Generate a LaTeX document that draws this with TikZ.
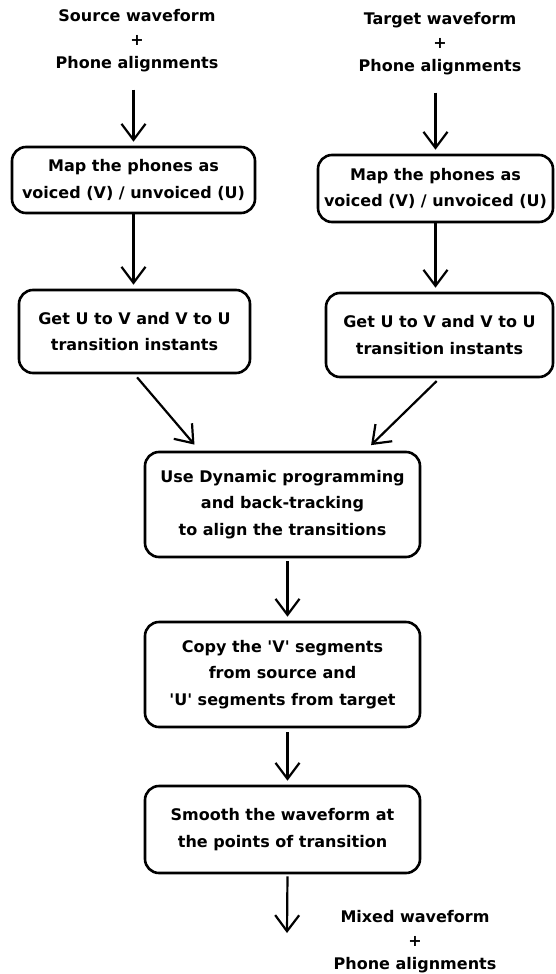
\documentclass[tikz,border=0pt]{standalone}
\usepackage{fontspec}
\setmainfont{DejaVu Sans}
\usetikzlibrary{arrows.meta}
\tikzset{
  >={Straight Barb[length=16pt,width=24pt]},
  process box/.style = {draw, line width=2.6pt, rounded corners=14pt,
                        align=center, inner sep=0pt,
                        font=\bfseries\fontsize{16}{26.5}\selectfont},
  io text/.style = {align=center, inner sep=0pt,
                    font=\bfseries\fontsize{16}{23.5}\selectfont},
  flow/.style = {line width=2.2pt, ->, shorten >=4pt},
}

\begin{document}
\begin{tikzpicture}[x=1pt, y=-1pt]
\useasboundingbox (0,0) rectangle (556,974);
% inputs
\node[io text] (src) at (137,41) {Source waveform\\+\\Phone alignments};
\node[io text] (tgt) at (440,44) {Target waveform\\+\\Phone alignments};
% voiced / unvoiced maps
\node[process box, minimum width=243pt, minimum height=66pt] (mapS) at (133.5,180)
  {Map the phones as\\voiced (V) / unvoiced (U)};
\node[process box, minimum width=235pt, minimum height=67pt] (mapT) at (435.5,188.5)
  {Map the phones as\\voiced (V) / unvoiced (U)};
% transition instants
\node[process box, minimum width=231pt, minimum height=83pt] (trS) at (134.5,331.5)
  {Get U to V and V to U\\transition instants};
\node[process box, minimum width=227pt, minimum height=84pt] (trT) at (439.5,335)
  {Get U to V and V to U\\transition instants};
% merging steps
\node[process box, minimum width=275pt, minimum height=105pt] (dp) at (282.5,504.5)
  {Use Dynamic programming\\and back-tracking\\to align the transitions};
\node[process box, minimum width=275pt, minimum height=105pt] (copy) at (282.5,674.5)
  {Copy the \textquotesingle V\textquotesingle{} segments\\from source and\\\textquotesingle U\textquotesingle{} segments from target};
\node[process box, minimum width=275pt, minimum height=87pt] (smooth) at (282.5,829.5)
  {Smooth the waveform at\\the points of transition};
\node[io text] (mix) at (415,942) {Mixed waveform\\+\\Phone alignments};
\coordinate (out) at (287,933);

\draw[flow, shorten <=17pt] (src.south -| mapS.north) -- (mapS.north);
\draw[flow, shorten <=17pt] (tgt.south -| mapT.north) -- (mapT.north);
\draw[flow] (mapS.south) -- (mapS.south |- trS.north);
\draw[flow] (mapT.south) -- (mapT.south |- trT.north);
\draw[flow, shorten <=4pt, shorten >=8pt] (trS.south) -- (dp.147);
\draw[flow, shorten <=4pt, shorten >=8pt] (trT.south) -- (dp.33);
\draw[flow, shorten <=3pt] ([xshift=5pt]dp.south) -- ([xshift=5pt]copy.north);
\draw[flow, shorten <=4pt] ([xshift=5pt]copy.south) -- ([xshift=5pt]smooth.north);
\draw[flow, shorten <=2pt, shorten >=0pt] ([xshift=5pt]smooth.south) -- (out);
\end{tikzpicture}
\end{document}
